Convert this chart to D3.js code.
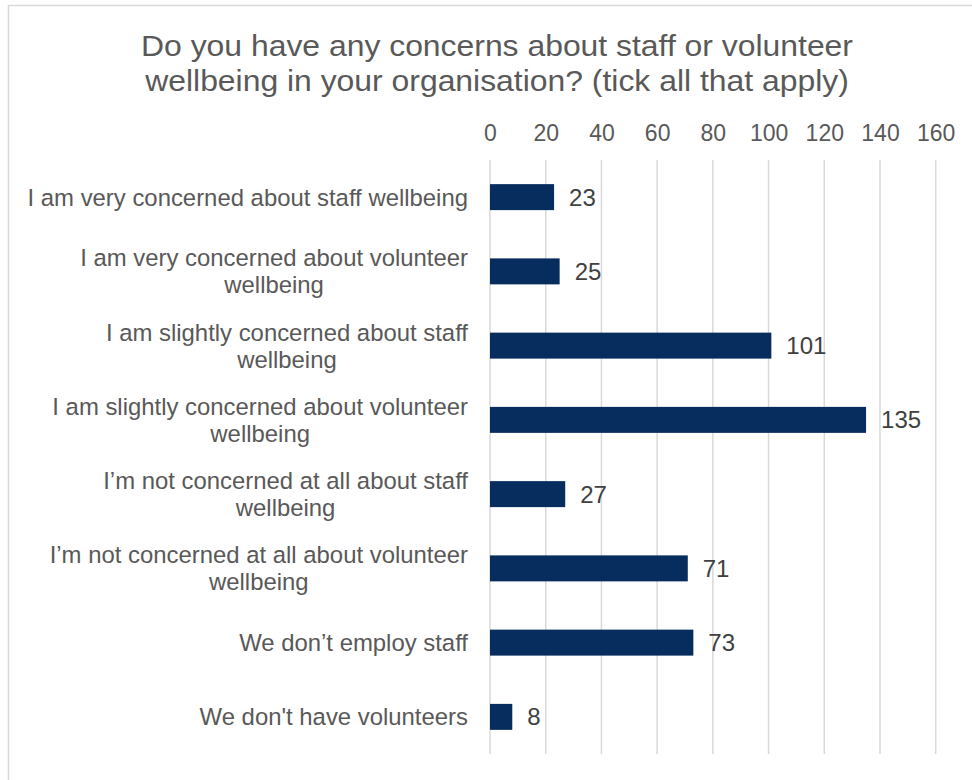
<!DOCTYPE html>
<html>
<head>
<meta charset="utf-8">
<script src="https://cdn.jsdelivr.net/npm/d3@7"></script>
<style>
  html, body { margin: 0; padding: 0; background: #ffffff; }
  svg { display: block; }
  text { font-family: "Liberation Sans", Arial, sans-serif; }
</style>
</head>
<body>
<svg id="chart" width="972" height="780"></svg>
<script>
// Survey responses (multiple answers allowed)
const categories = [
  "I am very concerned about staff wellbeing",
  "I am very concerned about volunteer\nwellbeing",
  "I am slightly concerned about staff\nwellbeing",
  "I am slightly concerned about volunteer\nwellbeing",
  "I\u2019m not concerned at all about staff\nwellbeing",
  "I\u2019m not concerned at all about volunteer\nwellbeing",
  "We don\u2019t employ staff",
  "We don't have volunteers"
];
const values = [23, 25, 101, 135, 27, 71, 73, 8];
const tickValues = [0, 20, 40, 60, 80, 100, 120, 140, 160];
const titleLines = [
  "Do you have any concerns about staff or volunteer",
  "wellbeing in your organisation? (tick all that apply)"
];

const svg = d3.select("#chart");
const W = 972, H = 780;

// chart area frame
svg.append("rect")
  .attr("x", 8.5).attr("y", 5.5)
  .attr("width", W + 20).attr("height", H + 20)
  .attr("fill", "#ffffff")
  .attr("stroke", "#d9d9d9").attr("stroke-width", 1.5);

const plot = { left: 490, right: 935.7, top: 160, bottom: 754 };

const x = d3.scaleLinear().domain([0, 160]).range([plot.left, plot.right]);
const y = d3.scaleBand().domain(categories).range([plot.top, plot.bottom]).paddingInner(0.65).paddingOuter(0.325);

// title, slightly widened horizontally
const titleCx = 497;
svg.append("g")
  .attr("transform", `translate(${titleCx},0) scale(1.1,1)`)
  .selectAll("text")
  .data(titleLines).join("text")
  .attr("x", 0).attr("y", (d, i) => 56 + i * 35)
  .attr("text-anchor", "middle")
  .attr("fill", "#595959")
  .style("font-size", "29px")
  .text(d => d);

// vertical gridlines
svg.append("g").selectAll("line")
  .data(tickValues).join("line")
  .attr("x1", d => x(d)).attr("x2", d => x(d))
  .attr("y1", plot.top).attr("y2", plot.bottom)
  .attr("stroke", "#d9d9d9").attr("stroke-width", 1.5);

// top axis labels
const axis = d3.axisTop(x).tickValues(tickValues).tickSize(0).tickPadding(0);
const axisG = svg.append("g").attr("transform", `translate(0, 141)`).call(axis);
axisG.select(".domain").remove();
axisG.selectAll("text")
  .attr("y", 0).attr("dy", 0)
  .attr("fill", "#595959")
  .style("font-size", "23px")
  .style("font-family", "'Liberation Sans', Arial, sans-serif");

// bars
svg.append("g").selectAll("rect")
  .data(values).join("rect")
  .attr("x", x(0))
  .attr("y", (d, i) => y(categories[i]))
  .attr("width", d => x(d) - x(0))
  .attr("height", y.bandwidth())
  .attr("fill", "#072d5e");

// value labels
svg.append("g").selectAll("text")
  .data(values).join("text")
  .attr("x", d => x(d) + 15)
  .attr("y", (d, i) => y(categories[i]) + y.bandwidth() / 2 + 8.5)
  .attr("fill", "#404040")
  .style("font-size", "24px")
  .text(d => d);

// category labels: block right-aligned, each line centred within the block
const labelRight = 468;
const lineGap = 27;
const labelG = svg.append("g");
categories.forEach((c, i) => {
  const lines = c.split("\n");
  const cy = y(c) + y.bandwidth() / 2;
  const g = labelG.append("g");
  const texts = g.selectAll("text").data(lines).join("text")
    .attr("fill", "#595959")
    .style("font-size", "23.9px")
    .attr("text-anchor", "middle")
    .attr("y", (d, k) => cy + 8.5 + (k - (lines.length - 1) / 2) * lineGap)
    .text(d => d);
  let maxW = 0;
  texts.each(function () { maxW = Math.max(maxW, this.getComputedTextLength()); });
  texts.attr("x", labelRight - maxW / 2);
});
</script>
</body>
</html>
